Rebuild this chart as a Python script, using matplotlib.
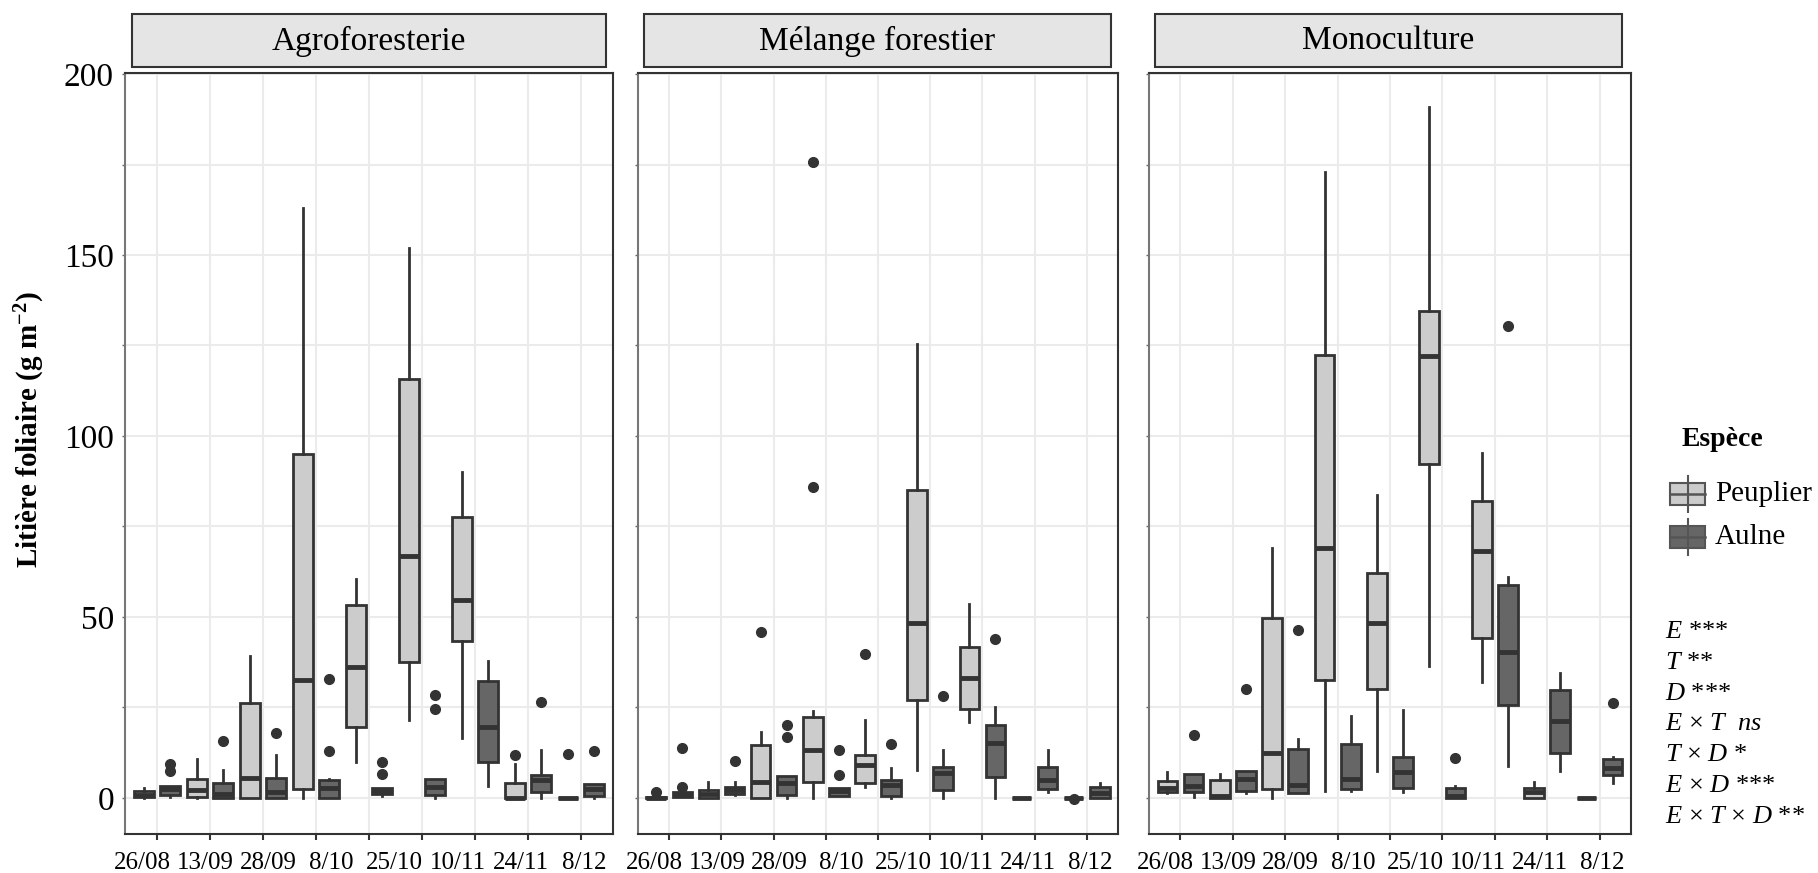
import numpy as np
import matplotlib
matplotlib.use("Agg")
import matplotlib.pyplot as plt
from matplotlib.patches import Rectangle
from matplotlib.lines import Line2D

plt.rcParams["font.family"] = ["Liberation Serif", "DejaVu Serif"]
plt.rcParams["mathtext.fontset"] = "custom"
plt.rcParams["mathtext.rm"] = "Liberation Serif"
plt.rcParams["mathtext.it"] = "Liberation Serif:italic"
plt.rcParams["mathtext.bf"] = "Liberation Serif:bold"

# ---- data ----
facets = ["Agroforesterie", "Mélange forestier", "Monoculture"]
date_labels = ["26/08", "13/09", "28/09", "8/10", "25/10", "10/11", "24/11", "8/12"]
species = ["Peuplier", "Aulne"]

# rows: whisker low, q1, median, q3, whisker high  (one row per sampling date)
agro_peuplier = [[0, 0.1, 0.8, 2.0, 2.7], [0, 0.2, 2.2, 5.2, 10.7], [0, 0, 5.4, 26.3, 39.2],
                 [0, 2.4, 32.6, 95.0, 162.9], [9.9, 19.7, 36.1, 53.3, 60.4], [21.5, 37.5, 66.9, 115.7, 152.0],
                 [16.5, 43.4, 54.7, 77.7, 89.9], [0, 0, 0, 4.0, 9.4], [0, 0, 0, 0, 0]]
agro_peuplier_out = [[], [], [], [], [], [], [], [11.7], [12.1]]
agro_aulne = [[0.2, 0.8, 2.4, 3.4, 3.4], [0, 0, 1.0, 4.0, 7.7], [0, 0, 1.6, 5.6, 11.9],
              [0, 0, 2.7, 4.8, 5.1], [0.4, 1.0, 1.9, 2.6, 2.6], [0, 0.8, 2.9, 5.2, 5.2],
              [3.4, 9.8, 19.7, 32.4, 37.7], [0, 1.6, 5.0, 6.4, 13.1], [0, 0.4, 2.4, 3.8, 3.8]]
agro_aulne_out = [[7.3, 9.4], [15.8], [18.0], [13.0, 32.8], [6.6, 9.8], [24.6, 28.3], [], [26.6], [13.0]]

mel_peuplier = [[0, 0, 0, 0.3, 0.5], [0, 0, 1.0, 2.2, 4.5], [0, 0, 4.3, 14.5, 18.1],
                [0, 4.5, 13.3, 22.2, 23.9], [3.1, 4.1, 9.1, 11.7, 21.5], [7.7, 27.1, 48.3, 85.1, 125.4],
                [20.9, 24.6, 33.1, 41.8, 53.6], [0, 0, 0, 0, 0], [0, 0, 0, 0, 0]]
mel_peuplier_out = [[1.7], [], [45.8], [86.0, 175.6], [39.7], [], [], [], [-0.3]]
mel_aulne = [[0.2, 0.2, 0.8, 1.5, 1.5], [0.8, 1.1, 2.2, 3.0, 4.5], [0, 0.8, 4.2, 5.9, 5.9],
             [0.6, 0.6, 1.9, 2.7, 2.7], [0, 0.5, 3.6, 5.0, 8.2], [0, 2.2, 6.8, 8.5, 13.1],
             [0, 5.7, 15.1, 20.0, 25.2], [1.5, 2.4, 5.0, 8.4, 13.1], [0, 0, 1.3, 3.0, 4.0]]
mel_aulne_out = [[3.0, 13.7], [10.3], [16.7, 20.2], [6.4, 13.3], [14.8], [28.0], [43.8], [], []]

mono_peuplier = [[1.3, 1.6, 2.7, 4.7, 7.1], [0, 0, 0.6, 5.0, 6.7], [0, 2.5, 12.3, 49.6, 69.0],
                 [2.0, 32.6, 69.0, 122.4, 173.0], [7.3, 30.1, 48.3, 62.1, 83.7], [36.5, 92.3, 122.2, 134.6, 191.0],
                 [32.1, 44.1, 68.3, 82.1, 95.2], [0, 0, 1.5, 2.7, 4.5], [0, 0, 0, 0, 0]]
mono_peuplier_out = [[], [], [], [], [], [], [], [], []]
mono_aulne = [[0.2, 1.6, 3.4, 6.6, 6.6], [1.3, 1.9, 5.2, 7.5, 7.5], [1.3, 1.3, 3.6, 13.5, 16.3],
              [2.0, 2.5, 5.2, 14.9, 22.5], [1.6, 2.6, 7.1, 11.2, 24.3], [0, 0, 0.4, 2.7, 3.3],
              [8.9, 25.7, 40.4, 58.7, 61.0], [7.3, 12.3, 21.3, 29.8, 34.4], [4.0, 6.4, 8.2, 10.7, 11.2]]
mono_aulne_out = [[17.4], [30.1], [46.4], [], [], [11.0], [130.4], [], [26.3]]

signif = [r"$E$ ***", r"$T$ **", r"$D$ ***", r"$E$ × $T$  $ns$", r"$T$ × $D$ *",
          r"$E$ × $D$ ***", r"$E$ × $T$ × $D$ **"]

facet_data = [(agro_peuplier, agro_peuplier_out, agro_aulne, agro_aulne_out),
              (mel_peuplier, mel_peuplier_out, mel_aulne, mel_aulne_out),
              (mono_peuplier, mono_peuplier_out, mono_aulne, mono_aulne_out)]

light, dark, edge = "#cccccc", "#666666", "#333333"


def to_stats(rows, outs):
    return [dict(whislo=r[0], q1=r[1], med=r[2], q3=r[3], whishi=r[4], fliers=o) for r, o in zip(rows, outs)]


W, H = 1818, 873
fig = plt.figure(figsize=(W / 100, H / 100), dpi=100)
panels = [(125, 613), (638, 1118), (1149, 1631)]
strips = [(132, 606), (644, 1111), (1155, 1622)]
top, bot = 73, 834
pos = np.arange(1, 10)
label_pos = np.linspace(0.72, 9.06, len(date_labels))


def fx(x):
    return x / W


def fy(y):
    return 1 - y / H


for i, name in enumerate(facets):
    pdat, pout, adat, aout = facet_data[i]
    l, r = panels[i]
    ax = fig.add_axes([fx(l), fy(bot), (r - l) / W, (bot - top) / H])
    for st, off, col in [(to_stats(pdat, pout), -0.25, light), (to_stats(adat, aout), 0.25, dark)]:
        ax.bxp(st, positions=pos + off, widths=0.375, patch_artist=True, showcaps=False,
               manage_ticks=False,
               boxprops=dict(facecolor=col, edgecolor=edge, linewidth=2),
               medianprops=dict(color=edge, linewidth=3.5),
               whiskerprops=dict(color=edge, linewidth=2),
               flierprops=dict(marker="o", markerfacecolor=edge, markeredgecolor=edge, markersize=7))
    ax.set_xlim(0.4, 9.6)
    ax.set_ylim(-10, 200.3)
    ax.set_xticks(pos, minor=True)
    ax.set_xticks(label_pos)
    ax.set_xticklabels(date_labels, fontsize=18)
    ax.set_yticks([0, 50, 100, 150, 200])
    ax.set_yticks([25, 75, 125, 175], minor=True)
    ax.tick_params(axis="x", which="major", length=0, pad=13)
    ax.tick_params(axis="x", which="minor", length=4, width=1.5, color=edge)
    ax.tick_params(axis="y", which="both", length=2, width=1, color="#666666", labelsize=24, pad=6)
    if i > 0:
        ax.set_yticklabels([])
    ax.grid(which="minor", axis="x", color="#ebebeb", lw=1.5)
    ax.grid(which="both", axis="y", color="#ebebeb", lw=1.5)
    ax.set_axisbelow(True)
    for s in ax.spines.values():
        s.set_color(edge)
        s.set_linewidth(1.5)
    ax.spines["left"].set_color("#777777")

    sl, sr = strips[i]
    fig.add_artist(Rectangle((fx(sl), fy(67)), (sr - sl) / W, 53 / H, transform=fig.transFigure,
                             fc="#e5e5e5", ec=edge, lw=1.5))
    fig.text(fx((sl + sr) / 2), fy(41), name, ha="center", va="center", fontsize=24)

fig.text(fx(30), fy(430), r"Litière foliaire (g m$^{\mathbf{-2}}$)", rotation=90,
         ha="center", va="center", fontsize=21, fontweight="bold")

# legend, drawn by hand in figure pixels
fig.text(fx(1682), fy(440), "Espèce", ha="left", va="center", fontsize=20, fontweight="bold")
key_col = "#555555"
for k, (lab, col) in enumerate(zip(species, [light, dark])):
    yc = 494 + 43 * k
    x0, x1 = 1670, 1705
    fig.add_artist(Line2D([fx((x0 + x1) / 2)] * 2, [fy(yc - 18), fy(yc + 18)],
                          transform=fig.transFigure, color=key_col, lw=1.5))
    fig.add_artist(Rectangle((fx(x0), fy(yc + 11)), (x1 - x0) / W, 22 / H, transform=fig.transFigure,
                             fc=col, ec=key_col, lw=1.5))
    fig.add_artist(Line2D([fx(x0), fx(x1)], [fy(yc)] * 2, transform=fig.transFigure,
                          color=key_col, lw=1.8))
    fig.text(fx(1715), fy(yc), lab, ha="left", va="center", fontsize=21)

for k, s in enumerate(signif):
    fig.text(fx(1665), fy(632 + 30.8 * k), s, ha="left", va="center", fontsize=19)

fig.savefig("out.png", dpi=100)
